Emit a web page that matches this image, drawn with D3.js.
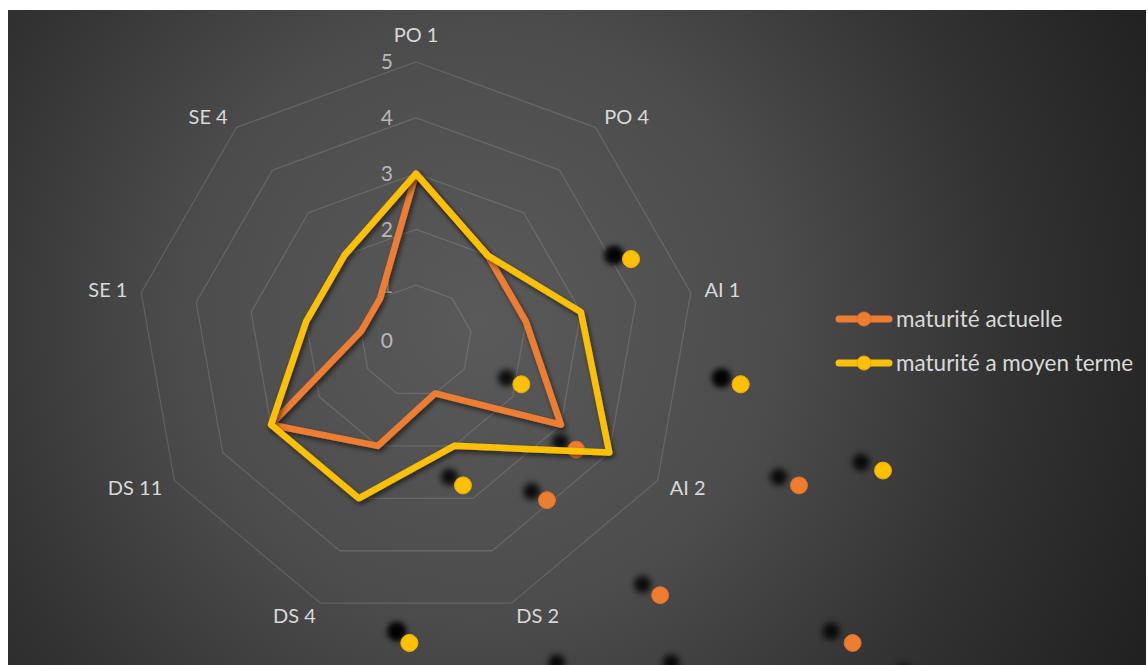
<!DOCTYPE html>
<html>
<head>
<meta charset="utf-8">
<script src="https://cdn.jsdelivr.net/npm/d3@7"></script>
<style>
  html, body { margin: 0; padding: 0; background: #fff; }
  svg { display: block; }
  text { font-family: Lato, "Open Sans", sans-serif; }
</style>
</head>
<body>
<svg id="chart" width="1148" height="665"></svg>
<script>
// axes of the radar, clockwise from the top
var axes = ["PO 1", "PO 4", "AI 1", "AI 2", "DS 2", "DS 4", "DS 11", "SE 1", "SE 4"];

// series values
var actuelle   = [3, 2, 2, 3, 1, 2, 3, 1, 1];
var moyenTerme = [3, 2, 3, 4, 2, 3, 3, 2, 2];

var seriesNames  = ["maturité actuelle", "maturité a moyen terme"];
var seriesColors = ["#ED7D31", "#FFC000"];

// radial tick labels
var ticks = [0, 1, 2, 3, 4, 5];

var W = 1148, H = 665;
var svg = d3.select('#chart');
var defs = svg.append('defs');

// background: radial grey gradient
var grad = defs.append('radialGradient')
	.attr('id', 'bg')
	.attr('gradientUnits', 'userSpaceOnUse')
	.attr('cx', 480).attr('cy', 320).attr('r', 740);
[[0, '#5a5a5a'], [0.4, '#4c4c4c'], [0.72, '#323232'], [1, '#212121']].forEach(function(s){
	grad.append('stop').attr('offset', s[0]).attr('stop-color', s[1]);
});

// shadow under the series lines
var f = defs.append('filter').attr('id', 'lineShadow')
	.attr('x', '-20%').attr('y', '-20%').attr('width', '140%').attr('height', '140%');
f.append('feDropShadow').attr('dx', 2).attr('dy', 3).attr('stdDeviation', 2.5)
	.attr('flood-color', '#000').attr('flood-opacity', 0.55);

// blur for the marker shadows
defs.append('filter').attr('id', 'blur')
	.attr('x', '-100%').attr('y', '-100%').attr('width', '300%').attr('height', '300%')
	.append('feGaussianBlur').attr('stdDeviation', 3.4);

svg.append('rect')
	.attr('x', 8).attr('y', 10)
	.attr('width', W - 10).attr('height', H - 10)
	.attr('fill', 'url(#bg)');

// main radar geometry
var cx = 416, cy = 341;
var angle = d3.scaleLinear().domain([0, axes.length]).range([0, 2 * Math.PI]);
var r = d3.scaleLinear().domain([0, 5]).range([0, 279]);

var main = {x: cx, y: cy, r: r};
// labels sit just outside the outer ring
var lab = {x: cx, y: cy, r: d3.scaleLinear().domain([0, 5]).range([0, 293])};

// the markers are drawn on a shifted/enlarged copy of the radar (as in the picture)
var mk = {x: 631, y: 515, r: d3.scaleLinear().domain([0, 5]).range([0, 426.5])};
var sh = {x: 614, y: 506, r: d3.scaleLinear().domain([0, 5]).range([0, 418])};

function pt(i, v, sys) {
	var a = angle(i);
	return [sys.x + Math.sin(a) * sys.r(v), sys.y - Math.cos(a) * sys.r(v)];
}

// grid nonagons
var g = svg.append('g');
var gridLine = d3.lineRadial()
	.angle(function(d, i){ return angle(i); })
	.radius(function(d){ return r(d); })
	.curve(d3.curveLinearClosed);

g.selectAll('path.grid')
	.data(ticks.slice(1))
	.enter().append('path')
	.attr('class', 'grid')
	.attr('transform', 'translate(' + cx + ',' + cy + ')')
	.attr('d', function(t){ return gridLine(axes.map(function(){ return t; })); })
	.attr('fill', 'none')
	.attr('stroke', 'rgba(255,255,255,0.13)')
	.attr('stroke-width', 1.3);

// tick labels
g.selectAll('text.tick')
	.data(ticks)
	.enter().append('text')
	.attr('class', 'tick')
	.attr('x', cx - 23)
	.attr('y', function(d){ return cy - r(d); })
	.attr('dy', '0.35em')
	.attr('text-anchor', 'end')
	.attr('fill', '#b8b8b8')
	.attr('font-size', 21)
	.text(function(d){ return d; });

// axis labels: anchored on the side facing the chart
g.selectAll('text.axis')
	.data(axes)
	.enter().append('text')
	.attr('class', 'axis')
	.attr('x', function(d, i){ return pt(i, 5, lab)[0]; })
	.attr('y', function(d, i){ return pt(i, 5, lab)[1]; })
	.attr('dy', function(d, i){
		var c = Math.cos(angle(i));
		return c > 0.99 ? '-0.3em' : '0.35em';
	})
	.attr('text-anchor', function(d, i){
		var s = Math.sin(angle(i));
		return s > 0.01 ? 'start' : (s < -0.01 ? 'end' : 'middle');
	})
	.attr('fill', '#d9d9d9')
	.attr('font-size', 20)
	.text(function(d){ return d; });

// series
var seriesLine = d3.lineRadial()
	.angle(function(d, i){ return angle(i); })
	.radius(function(d){ return r(d); })
	.curve(d3.curveLinearClosed);

[actuelle, moyenTerme].forEach(function(values, s){
	var sg = svg.append('g');
	sg.append('path')
		.attr('transform', 'translate(' + cx + ',' + cy + ')')
		.attr('d', seriesLine(values))
		.attr('fill', 'none')
		.attr('stroke', seriesColors[s])
		.attr('stroke-width', 6.5)
		.attr('stroke-linejoin', 'round')
		.attr('filter', 'url(#lineShadow)');

	sg.selectAll('circle.sh')
		.data(values)
		.enter().append('circle')
		.attr('class', 'sh')
		.attr('cx', function(d, i){ return pt(i, d, sh)[0]; })
		.attr('cy', function(d, i){ return pt(i, d, sh)[1]; })
		.attr('r', 8.5)
		.attr('fill', '#000')
		.attr('opacity', 0.85)
		.attr('filter', 'url(#blur)');

	sg.selectAll('circle.mk')
		.data(values)
		.enter().append('circle')
		.attr('class', 'mk')
		.attr('cx', function(d, i){ return pt(i, d, mk)[0]; })
		.attr('cy', function(d, i){ return pt(i, d, mk)[1]; })
		.attr('r', 8.5)
		.attr('fill', seriesColors[s])
		.attr('stroke', d3.color(seriesColors[s]).darker(0.3))
		.attr('stroke-width', 1);
});

// legend
var legend = svg.append('g').attr('transform', 'translate(836,319)');
var item = legend.selectAll('g')
	.data(seriesNames)
	.enter().append('g')
	.attr('transform', function(d, i){ return 'translate(0,' + i * 44 + ')'; });

item.append('line')
	.attr('x1', 3).attr('x2', 53)
	.attr('stroke', function(d, i){ return seriesColors[i]; })
	.attr('stroke-width', 7)
	.attr('stroke-linecap', 'round');
item.append('circle')
	.attr('cx', 28).attr('r', 7)
	.attr('fill', function(d, i){ return seriesColors[i]; })
	.attr('stroke', function(d, i){ return d3.color(seriesColors[i]).darker(0.3); })
	.attr('stroke-width', 1);
item.append('text')
	.attr('x', 60)
	.attr('dy', '0.35em')
	.attr('fill', '#d9d9d9')
	.attr('font-size', 22.5)
	.text(function(d){ return d; });
</script>
</body>
</html>
